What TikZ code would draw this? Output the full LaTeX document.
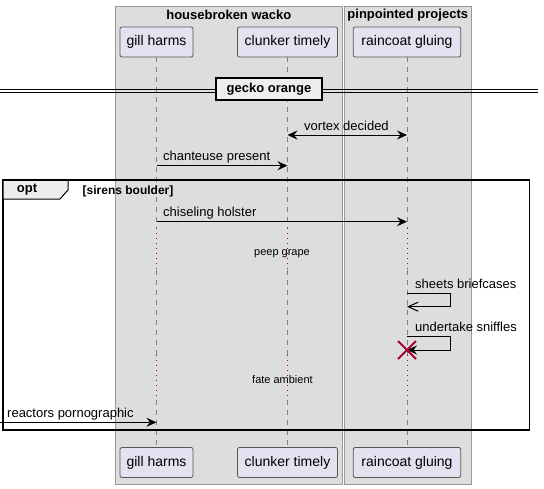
\documentclass[tikz,border=0pt]{standalone}
\usepackage{fontspec}
\setmainfont{Liberation Sans}
\usepackage{xcolor}
\usetikzlibrary{positioning}
\usetikzlibrary{arrows.meta}
\definecolor{boxgray}{HTML}{DDDDDD}
\definecolor{boxline}{HTML}{999999}
\definecolor{partfill}{HTML}{E2E2F0}
\definecolor{partline}{HTML}{555555}
\definecolor{tabfill}{HTML}{EEEEEE}
\definecolor{delayred}{HTML}{A80036}
\tikzstyle{part} = [draw=partline, fill=partfill, rounded corners=2pt, minimum height=30pt, line width=0.8pt, font=\fontsize{14}{16}\selectfont]
\tikzstyle{msg} = [draw, line width=1pt, -{Stealth[length=10pt,width=9pt,inset=3.5pt]}]
\tikzstyle{msglabel} = [anchor=base west, inner sep=0pt, font=\fontsize{13}{15}\selectfont]
\tikzstyle{delaylabel} = [anchor=base west, inner sep=0pt, font=\fontsize{11}{13}\selectfont]
\tikzstyle{lifeline} = [draw=gray, line width=0.8pt, dash pattern=on 5pt off 5pt]
\tikzstyle{delayline} = [draw=delayred, line width=0.9pt, dash pattern=on 1.2pt off 3.8pt]

\begin{document}
\begin{tikzpicture}[x=1pt, y=-1pt]
			\useasboundingbox (0,0) rectangle (544,488);
			\node[draw=boxline, fill=boxgray, minimum width=226.4pt, minimum height=478pt, inner sep=0pt] at (228.8,245) (housebox) {};
			\node[draw=boxline, fill=boxgray, minimum width=127.5pt, minimum height=478pt, inner sep=0pt] at (407.75,245) (pinbox) {};
			\node[font=\fontsize{13}{15}\selectfont\bfseries, inner sep=0pt] at (228.8,15) (housetitle) {housebroken wacko};
			\node[font=\fontsize{13}{15}\selectfont\bfseries, inner sep=0pt] at (407.75,15) (pintitle) {pinpointed projects};
			
			\node[part, minimum width=73pt] at (156.5,42) (gillT) {gill harms};
			\node[part, minimum width=100pt] at (287.5,42) (clunkT) {clunker timely};
			\node[part, minimum width=107.5pt] at (407,42) (rainT) {raincoat gluing};
			\node[part, minimum width=73pt] at (156.5,462.5) (gillB) {gill harms};
			\node[part, minimum width=100pt] at (287.5,462.5) (clunkB) {clunker timely};
			\node[part, minimum width=107.5pt] at (407,462.5) (rainB) {raincoat gluing};
			
			\foreach \p in {gill, clunk, rain} {
				\draw[lifeline] (\p T.south) -- (\p T.south |- 0,228);
				\draw[delayline] (\p T.south |- 0,228) -- (\p T.south |- 0,270);
				\draw[lifeline] (\p T.south |- 0,270) -- (\p T.south |- 0,355);
				\draw[delayline] (\p T.south |- 0,355) -- (\p T.south |- 0,400);
				\draw[lifeline] (\p T.south |- 0,400) -- (\p B.north);
			}
			
			\draw[line width=1pt] (0,89.3) -- (538,89.3);
			\draw[line width=1pt] (0,92.7) -- (538,92.7);
			\node[draw, fill=tabfill, line width=1.5pt, minimum width=106pt, minimum height=22pt, font=\fontsize{13}{15}\selectfont\bfseries] at (269,89) (gecko) {gecko orange};
			
			\draw[msg, {Stealth[length=10pt,width=9pt,inset=3.5pt]}-{Stealth[length=10pt,width=9pt,inset=3.5pt]}] (clunkT.south |- 0,135) -- (rainT.south |- 0,135);
			\node[msglabel] at (304,130) (vortex) {vortex decided};
			\draw[msg] (gillT.south |- 0,165.7) -- (clunkT.south |- 0,165.7);
			\node[msglabel] at (163,160.7) (chanteuse) {chanteuse present};
			
			\draw[line width=1.5pt] (3,180) rectangle (529.5,430);
			\draw[line width=1pt, fill=tabfill] (3,180) -- (68,180) -- (68,190) -- (60,199) -- (3,199) -- cycle;
			\draw[line width=1.5pt] (3,180) -- (529.5,180);
			\node[font=\fontsize{13}{15}\selectfont\bfseries, inner sep=0pt] at (27,190) (opt) {opt};
			\node[font=\fontsize{12}{14}\selectfont\bfseries, anchor=base west, inner sep=0pt] at (82.5,194) (guard) {[sirens boulder]};
			
			\draw[msg] (gillT.south |- 0,221.7) -- (rainT.south |- 0,221.7);
			\node[msglabel] at (163,216.7) (chiseling) {chiseling holster};
			\node[delaylabel] at (254,255) (peep) {peep grape};
			
			\draw[draw, line width=1pt, -{Straight Barb[length=10pt,width=9pt]}] (rainT.south |- 0,293.3) -- (450,293.3) -- (450,306.7) -- (rainT.south |- 0,306.7);
			\node[msglabel] at (415,288.3) (sheets) {sheets briefcases};
			\draw[msg] (rainT.south |- 0,336.7) -- (450,336.7) -- (450,350) -- (rainT.south |- 0,350);
			\node[msglabel] at (415,331.7) (undertake) {undertake sniffles};
			\coordinate (destroy) at (rainT.south |- 0,350);
			\draw[delayred, line width=1.8pt] ([shift={(-9,-9)}]destroy) -- ([shift={(9,9)}]destroy) ([shift={(-9,9)}]destroy) -- ([shift={(9,-9)}]destroy);
			
			\node[delaylabel] at (252,383.5) (fate) {fate ambient};
			
			\coordinate (leftedge) at (0,422.3);
			\draw[msg] (leftedge) -- (gillT.south |- 0,422.3);
			\node[msglabel] at (7,417.3) (reactors) {reactors pornographic};
		\end{tikzpicture}
\end{document}
